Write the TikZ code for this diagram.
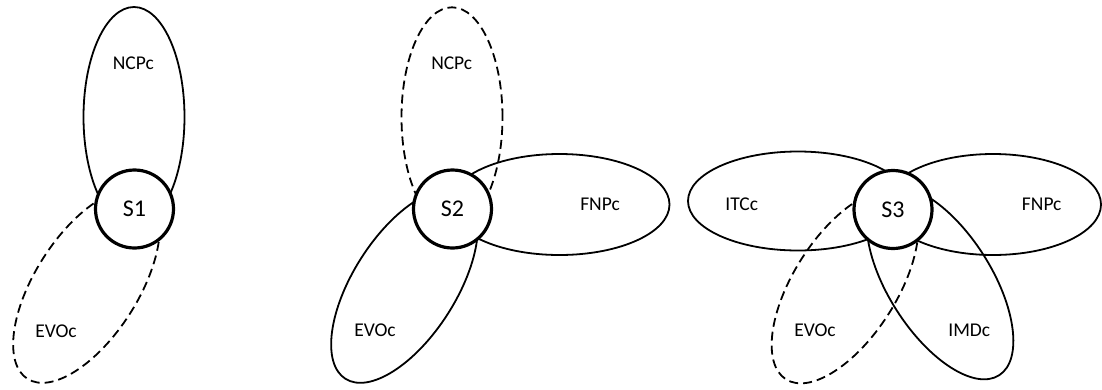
\documentclass[tikz,border=0pt]{standalone}
\usepackage{fontspec}
\setmainfont{Carlito}
\begin{document}
\begin{tikzpicture}[x=1pt,y=-1pt,
  petal/.style={draw=black,line width=1.8pt},
  petaldash/.style={petal,dash pattern=on 9pt off 5pt},
  hub/.style={circle,draw=black,fill=white,line width=3.2pt,minimum size=78pt,inner sep=0pt,font=\fontsize{24}{28.8}\selectfont},
  tag/.style={anchor=center,font=\fontsize{19.5}{23.4}\selectfont}]
% 1102 x 389 px, three groups S1, S2, S3
\useasboundingbox (0,0) rectangle (1102,389);
\path[petal] (134,117) ellipse [x radius=50.5pt,y radius=110pt];
\path[petaldash] (86.5,286) ellipse [x radius=110pt,y radius=51.5pt,rotate=57.5];
\path[petaldash] (452,117.3) ellipse [x radius=50.5pt,y radius=110pt];
\path[petal] (559.5,204.5) ellipse [x radius=110pt,y radius=50.5pt];
\path[petal] (404.5,286) ellipse [x radius=110pt,y radius=51.5pt,rotate=57.5];
\path[petal] (798,201) ellipse [x radius=110pt,y radius=49.5pt];
\path[petal] (993,204.5) ellipse [x radius=108pt,y radius=50.5pt];
\path[petaldash] (845,286.5) ellipse [x radius=110pt,y radius=51.5pt,rotate=57.5];
\path[petal] (940,282.5) ellipse [x radius=110pt,y radius=51.5pt,rotate=-57.5];
\node[hub] (s1) at (134.5,209) {S1};
\node[hub] (s2) at (452.5,209) {S2};
\node[hub] (s3) at (893,209.5) {S3};
\node[tag] (ncp1) at (133.3,63.3) {NCPc};
\node[tag] (evo1) at (56,331.7) {EVOc};
\node[tag] (ncp2) at (451.7,63.3) {NCPc};
\node[tag] (fnp2) at (600,204) {FNPc};
\node[tag] (evo2) at (375,330) {EVOc};
\node[tag] (itc3) at (741.7,204) {ITCc};
\node[tag] (fnp3) at (1041.7,204) {FNPc};
\node[tag] (evo3) at (815,330) {EVOc};
\node[tag] (imd3) at (969.3,330) {IMDc};
\end{tikzpicture}
\end{document}
